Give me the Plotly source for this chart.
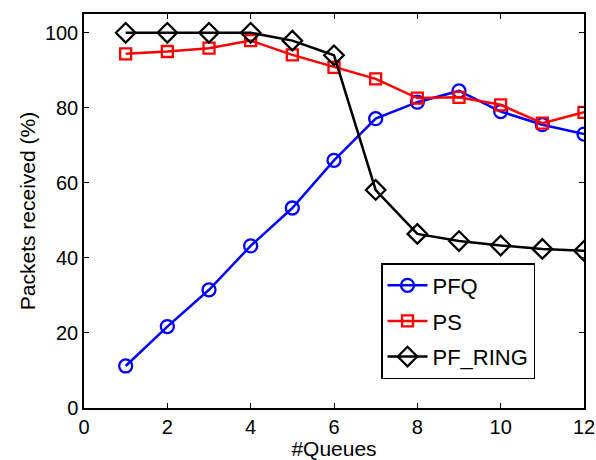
import plotly.graph_objects as go

queues = [1, 2, 3, 4, 5, 6, 7, 8, 9, 10, 11, 12]
pfq = [11.2, 21.7, 31.5, 43.2, 53.3, 66.0, 77.1, 81.5, 84.5, 79.0, 75.5, 73.0]
ps = [94.4, 95.0, 95.9, 97.9, 94.1, 90.8, 87.7, 82.6, 82.8, 80.8, 75.9, 78.8]
pf_ring = [100.0, 100.0, 100.0, 100.0, 97.9, 94.0, 58.1, 46.4, 44.5, 43.3, 42.4, 41.9]

x_ticks = [0, 2, 4, 6, 8, 10, 12]
y_ticks = [0, 20, 40, 60, 80, 100]

FONT = "Liberation Sans, Arial, sans-serif"

fig = go.Figure()
fig.add_trace(go.Scatter(x=queues, y=pfq, name="PFQ", mode="lines+markers", legendgroup="a",
                         line=dict(color="#0000ff", width=2.5),
                         marker=dict(symbol="circle-open", size=13, color="#0000ff", line=dict(width=2.3))))
fig.add_trace(go.Scatter(x=queues, y=ps, name="PS", mode="lines+markers", legendgroup="b",
                         line=dict(color="#ff0000", width=2.5),
                         marker=dict(symbol="square-open", size=11, color="#ff0000", line=dict(width=2.3))))
fig.add_trace(go.Scatter(x=queues, y=pf_ring, name="PF_RING", mode="lines+markers", legendgroup="c",
                         line=dict(color="#000000", width=2.5),
                         marker=dict(symbol="diamond-open", size=15, color="#000000", line=dict(width=2.3))))

axis_common = dict(showline=True, linecolor="black", linewidth=1.5, mirror="ticks",
                   ticks="inside", ticklen=5, tickcolor="black", tickwidth=1,
                   showgrid=False, zeroline=False, automargin=False,
                   tickfont=dict(family=FONT, size=20, color="black"))

fig.update_xaxes(range=[0, 12], tickvals=x_ticks,
                 title=dict(text="#Queues", font=dict(family=FONT, size=21, color="black"), standoff=2),
                 **axis_common)
fig.update_yaxes(range=[0, 105], tickvals=y_ticks,
                 title=dict(text="Packets received (%)", font=dict(family=FONT, size=21, color="black"), standoff=4),
                 **axis_common)

fig.update_layout(
    width=596, height=460,
    margin=dict(l=84, r=12, t=14, b=52),
    plot_bgcolor="white", paper_bgcolor="white",
    legend=dict(x=0.594, y=0.368, xanchor="left", yanchor="top",
                bordercolor="black", borderwidth=1.5, bgcolor="white",
                font=dict(family=FONT, size=22, color="black"),
                tracegroupgap=4, itemwidth=40),
    showlegend=True,
)

fig.write_html(
    "out.html",
    config={"displayModeBar": False},
    post_script="document.body.style.margin='0';document.body.style.overflow='hidden';",
)
